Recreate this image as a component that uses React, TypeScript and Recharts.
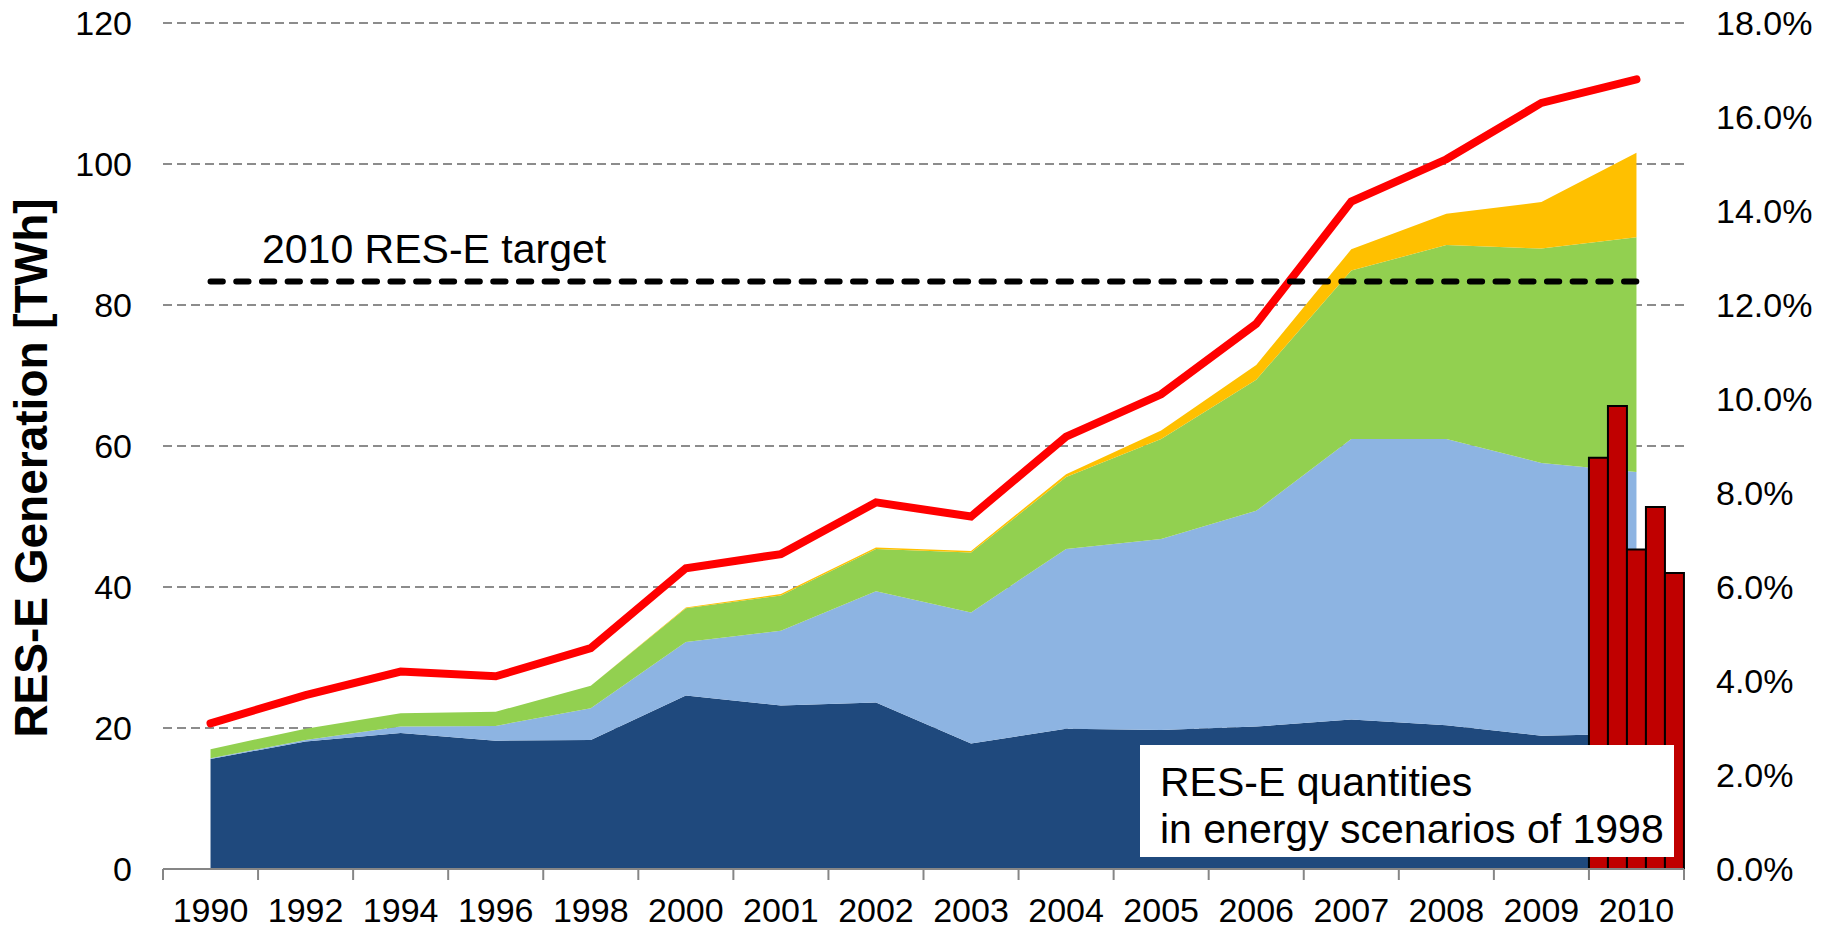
import { Area, Bar, CartesianGrid, ComposedChart, Line, XAxis, YAxis } from 'recharts';

const years = ['1990', '1992', '1994', '1996', '1998', '2000', '2001', '2002', '2003', '2004', '2005', '2006', '2007', '2008', '2009', '2010'];

// stacked generation in TWh
const hydro = [15.6, 18.1, 19.3, 18.2, 18.3, 24.6, 23.2, 23.6, 17.8, 19.9, 19.7, 20.2, 21.2, 20.4, 18.9, 19.2];
const wind = [0.1, 0.2, 0.9, 2.1, 4.5, 7.6, 10.6, 15.8, 18.6, 25.5, 27.1, 30.6, 39.8, 40.6, 38.7, 37.1];
const biomass = [1.3, 1.6, 1.9, 2.0, 3.2, 4.8, 5.0, 6.0, 8.5, 10.2, 14.2, 18.6, 23.9, 27.5, 30.4, 33.3];
const solar = [0, 0, 0, 0, 0, 0.1, 0.2, 0.2, 0.2, 0.4, 1.2, 2.1, 3.0, 4.45, 6.6, 12.0];

// share of consumption, right axis (%)
const resShare = [3.1, 3.7, 4.2, 4.1, 4.7, 6.4, 6.7, 7.8, 7.5, 9.2, 10.1, 11.6, 14.2, 15.1, 16.3, 16.8];
const target = [12.5, 12.5, 12.5, 12.5, 12.5, 12.5, 12.5, 12.5, 12.5, 12.5, 12.5, 12.5, 12.5, 12.5, 12.5, 12.5];

// 1998 scenarios for 2010 (%)
const scenarioKeys = ['sc1', 'sc2', 'sc3', 'sc4', 'sc5'];
const scenarioShares = [8.75, 9.85, 6.8, 7.7, 6.3];

const leftTicks = [0, 20, 40, 60, 80, 100, 120];
const rightTicks = [0, 2, 4, 6, 8, 10, 12, 14, 16, 18];

const data = years.map((year, i) => {
  const row: Record<string, string | number | null> = {
    year,
    hydro: hydro[i],
    wind: wind[i],
    biomass: biomass[i],
    solar: solar[i],
    share: resShare[i],
    target: target[i],
  };
  scenarioKeys.forEach((k, j) => {
    row[k] = i === years.length - 1 ? scenarioShares[j] : null;
  });
  return row;
});

const W = 1831;
const H = 928;
const margin = { top: 23, right: 17, bottom: 9, left: 63 };
const LEFT_W = 100;
const RIGHT_W = 130;
const X_H = 50;
const HALF_BAND = (W - margin.left - margin.right - LEFT_W - RIGHT_W) / years.length / 2;
const TICK_SIZE = 11;
const TICK_MARGIN = 18;
const FONT = 'Liberation Sans, Arial, sans-serif';
const AXIS_GRAY = '#868686';

const YearTick = (props: any) => {
  const { x, y, payload, index } = props;
  const axisY = y - TICK_SIZE - TICK_MARGIN;
  return (
    <g>
      <line x1={x - HALF_BAND} x2={x - HALF_BAND} y1={axisY} y2={axisY + TICK_SIZE} stroke={AXIS_GRAY} strokeWidth={2} />
      {index === years.length - 1 && (
        <line x1={x + HALF_BAND} x2={x + HALF_BAND} y1={axisY} y2={axisY + TICK_SIZE} stroke={AXIS_GRAY} strokeWidth={2} />
      )}
      <text x={x} y={y} dy="0.71em" textAnchor="middle" fontSize={34} fill="#000" fontFamily={FONT}>
        {payload.value}
      </text>
    </g>
  );
};

const renderTitle = () => (
  <text transform="translate(47, 468) rotate(-90)" textAnchor="middle" fontSize={46} fontWeight="bold" fill="#000" fontFamily={FONT}>
    RES-E Generation [TWh]
  </text>
);

export default function App() {
  return (
    <div style={{ position: 'absolute', left: 0, top: 0, width: W, height: H, background: '#fff' }}>
      <ComposedChart width={W} height={H} data={data} margin={margin} barGap={0} barCategoryGap={0}>
        <CartesianGrid yAxisId="left" vertical={false} stroke="#8c8c8c" strokeWidth={2} strokeDasharray="9 5" />
        <XAxis
          dataKey="year"
          height={X_H}
          interval={0}
          tickLine={false}
          tickSize={TICK_SIZE}
          tickMargin={TICK_MARGIN}
          axisLine={{ stroke: AXIS_GRAY, strokeWidth: 2 }}
          tick={<YearTick />}
        />
        <YAxis
          yAxisId="left"
          width={LEFT_W}
          domain={[0, 120]}
          ticks={leftTicks}
          axisLine={false}
          tickLine={false}
          tickSize={0}
          tickMargin={31}
          tick={{ fontSize: 34, fill: '#000', fontFamily: FONT }}
          label={renderTitle}
        />
        <YAxis
          yAxisId="right"
          orientation="right"
          width={RIGHT_W}
          domain={[0, 18]}
          ticks={rightTicks}
          axisLine={false}
          tickLine={false}
          tickSize={0}
          tickMargin={32}
          tickFormatter={(v: number) => v.toFixed(1) + '%'}
          tick={{ fontSize: 34, fill: '#000', fontFamily: FONT, textAnchor: 'start' }}
        />
        <Area yAxisId="left" type="linear" dataKey="hydro" stackId="gen" stroke="none" fill="#1F497D" fillOpacity={1} isAnimationActive={false} />
        <Area yAxisId="left" type="linear" dataKey="wind" stackId="gen" stroke="none" fill="#8DB4E2" fillOpacity={1} isAnimationActive={false} />
        <Area yAxisId="left" type="linear" dataKey="biomass" stackId="gen" stroke="none" fill="#92D050" fillOpacity={1} isAnimationActive={false} />
        <Area yAxisId="left" type="linear" dataKey="solar" stackId="gen" stroke="none" fill="#FFC000" fillOpacity={1} isAnimationActive={false} />
        {scenarioKeys.map((k) => (
          <Bar key={k} yAxisId="right" dataKey={k} fill="#C00000" stroke="#000" strokeWidth={2} isAnimationActive={false} />
        ))}
        <Line
          yAxisId="right"
          type="linear"
          dataKey="share"
          stroke="#FF0000"
          strokeWidth={8}
          strokeLinecap="round"
          dot={false}
          activeDot={false}
          isAnimationActive={false}
        />
        <Line
          yAxisId="right"
          type="linear"
          dataKey="target"
          stroke="#000"
          strokeWidth={6}
          strokeDasharray="12.3 13.4"
          strokeLinecap="round"
          dot={false}
          activeDot={false}
          isAnimationActive={false}
        />
      </ComposedChart>
      <svg width={W} height={H} style={{ position: 'absolute', left: 0, top: 0, pointerEvents: 'none' }} fontFamily={FONT}>
        <text x={262} y={263} fontSize={41} fill="#000">2010 RES-E target</text>
        <rect x={1140} y={745} width={534} height={112} fill="#fff" />
        <text x={1160} y={796} fontSize={41} fill="#000">RES-E quantities</text>
        <text x={1160} y={843} fontSize={41} fill="#000">in energy scenarios of 1998</text>
      </svg>
    </div>
  );
}
